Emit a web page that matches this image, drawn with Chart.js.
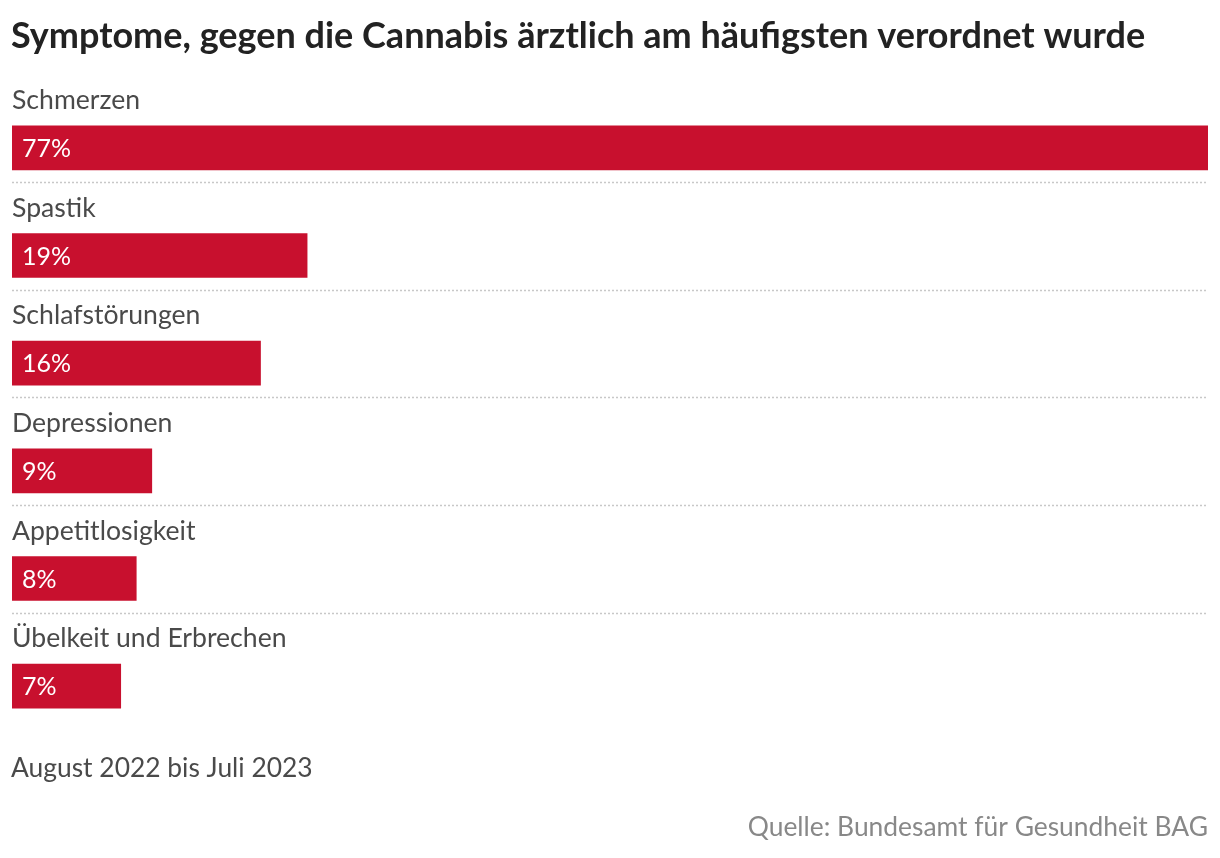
<!DOCTYPE html>
<html>
<head>
<meta charset="utf-8">
<script src="https://cdn.jsdelivr.net/npm/chart.js@4"></script>
<style>
  html, body { margin: 0; padding: 0; background: #fff; }
  #wrap { position: relative; width: 1220px; height: 858px; }
</style>
</head>
<body>
<div id="wrap"><canvas id="chart" width="1220" height="858"></canvas></div>
<script>
const title = "Symptome, gegen die Cannabis ärztlich am häufigsten verordnet wurde";
const subtitle = "August 2022 bis Juli 2023";
const source = "Quelle: Bundesamt für Gesundheit BAG";
const categories = ["Schmerzen", "Spastik", "Schlafstörungen", "Depressionen", "Appetitlosigkeit", "Übelkeit und Erbrechen"];
const values = [77, 19, 16, 9, 8, 7];

const red = "#c8102e";
const font = "Lato, 'Open Sans', sans-serif";

// labels above bars, values inside, dotted separators, title + notes
const text_plugin = {
	id: "texts",
	afterDatasetsDraw(chart) {
		const ctx = chart.ctx;
		const meta = chart.getDatasetMeta(0);
		const area = chart.chartArea;
		ctx.save();
		ctx.textBaseline = "alphabetic";
		ctx.fillStyle = "#222";
		ctx.font = "bold 36px " + font;
		ctx.fillText(title, 11, 48);
		for (let i = 0; i < meta.data.length; i++) {
			const bar = meta.data[i];
			ctx.fillStyle = "#4a4a4a";
			ctx.font = "26.6px " + font;
			ctx.fillText(categories[i], 12, bar.y - 39);
			ctx.fillStyle = "#fff";
			ctx.font = "25px " + font;
			ctx.fillText(values[i] + "%", 22, bar.y + 9);
			if (i < meta.data.length - 1) {
				ctx.strokeStyle = "#c8c8c8";
				ctx.lineWidth = 1.5;
				ctx.setLineDash([2, 2]);
				ctx.beginPath();
				ctx.moveTo(area.left, Math.round(bar.y + 34) + 0.5);
				ctx.lineTo(area.right, Math.round(bar.y + 34) + 0.5);
				ctx.stroke();
			}
		}
		ctx.setLineDash([]);
		ctx.fillStyle = "#4a4a4a";
		ctx.font = "26.4px " + font;
		ctx.fillText(subtitle, 11, 777);
		ctx.fillStyle = "#888";
		ctx.textAlign = "right";
		ctx.fillText(source, 1208, 836);
		ctx.restore();
	}
};

new Chart(document.getElementById("chart"), {
	type: "bar",
	data: {
		labels: categories,
		datasets: [{
			data: values,
			backgroundColor: red,
			borderWidth: 0,
			barThickness: 44
		}]
	},
	options: {
		indexAxis: "y",
		responsive: false,
		animation: false,
		devicePixelRatio: 1,
		layout: { padding: { left: 12, right: 12, top: 94, bottom: 118 } },
		scales: {
			x: { display: false, min: 0, max: 77 },
			y: { display: false }
		},
		plugins: {
			legend: { display: false },
			tooltip: { enabled: false }
		}
	},
	plugins: [text_plugin]
});
</script>
</body>
</html>
